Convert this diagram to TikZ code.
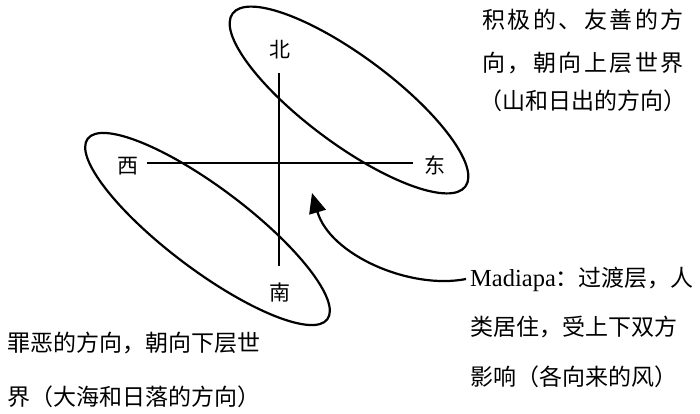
\documentclass[tikz,border=0pt]{standalone}
\usepackage{fontspec}
\setmainfont{Liberation Serif}
\newfontfamily\cjk{Noto Sans CJK SC}
\newfontfamily\cjkwide[LetterSpace=11]{Noto Sans CJK SC}
\usetikzlibrary{arrows.meta,shapes.geometric}
\begin{document}
\begin{tikzpicture}[x=1pt,y=-1pt,
  oval/.style={ellipse, draw, line width=2.2pt, inner sep=0pt},
  crossline/.style={line width=2.2pt},
  dirlabel/.style={font=\cjk\fontsize{21}{21}\selectfont, inner sep=0pt},
  txt/.style={font=\cjk\fontsize{23}{23}\selectfont, inner sep=0pt, anchor=west},
  widetxt/.style={font=\cjkwide\fontsize{23}{23}\selectfont, inner sep=0pt, anchor=west},
  pointer/.style={line width=2.2pt, -{Triangle[length=20pt,width=17pt]}}
]
\path[fill=white, use as bounding box] (0,0) rectangle (700,413);

% ellipses
\node[oval, minimum width=290pt, minimum height=88pt, rotate=-36.6] (upper) at (349,100) {};
\node[oval, minimum width=300pt, minimum height=82pt, rotate=-37] (lower) at (207.5,229) {};

% direction labels
\node[dirlabel] (N) at (280,50) {北};
\node[dirlabel] (W) at (128,166) {西};
\node[dirlabel] (E) at (435,165) {东};
\node[dirlabel] (S) at (280,293) {南};

% cross
\coordinate (n1) at (279,73);
\coordinate (s1) at (279,266);
\coordinate (w1) at (147,163);
\coordinate (e1) at (413,163);
\draw[crossline] (n1) -- (s1);
\draw[crossline] (w1) -- (e1);

% top right text
\node[widetxt] (t1) at (482,20) {积极的、友善的方};
\node[widetxt] (t2) at (482,63) {向，朝向上层世界};
\node[txt] (t3) at (479,101) {（山和日出的方向）};

% bottom left text
\node[txt] (b1) at (7,343) {罪恶的方向，朝向下层世};
\node[txt] (b2) at (7,397) {界（大海和日落的方向）};

% right text
\node[txt] (mad) at (470,279) {{\rmfamily\fontsize{24.5}{24.5}\selectfont Madiapa}：过渡层，人};
\node[txt] (m2) at (470,327) {类居住，受上下双方};
\node[txt] (m3) at (470,377) {影响（各向来的风）};

% arrow
\coordinate (tip) at (312,193);
\draw[pointer] ([xshift=-4pt]mad.west) .. controls (410,290) and (330,255) .. (tip);
\end{tikzpicture}
\end{document}
